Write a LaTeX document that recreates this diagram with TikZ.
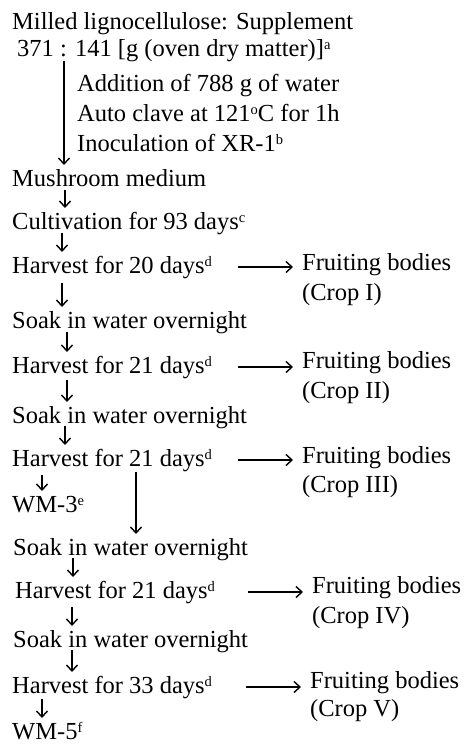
\documentclass[tikz,border=0pt]{standalone}
\usepackage{fontspec}
\setmainfont{Liberation Serif}
\usepackage{tikz}
\usetikzlibrary{arrows.meta, positioning, calc}
\tikzset{
  stage/.style={anchor=base west, inner sep=0pt, font=\fontsize{24.5}{30}\selectfont},
  flow/.style={-{Straight Barb[length=6pt, width=11pt]}, line width=1.4pt},
}
\newcommand{\sups}[1]{\raisebox{7pt}{\fontsize{14.5}{14.5}\selectfont #1}}
% vertical arrow: from node, x offset from its west, drop below its baseline, to node
\newcommand{\godown}[4]{%
  \draw[flow] let \p1=(#1.base west), \p2=(#4.base) in
    ({\x1+#2pt},{\y1-#3pt}) -- ({\x1+#2pt},{\y2+21pt});}
% horizontal arrow: harvest node to crop node
\newcommand{\goright}[2]{%
  \draw[flow] let \p1=(#1.base), \p2=(#2.base west) in
    ({\x2-64pt},{\y1+6pt}) -- ({\x2-9pt},{\y1+6pt});}

\begin{document}
\begin{tikzpicture}[x=1pt, y=-1pt]
  \useasboundingbox (0,0) rectangle (467,745);

  % Preparation of the medium
  \node[stage] (milled) at (12,29) {Milled lignocellulose: Supplement};
  \node[stage] (ratio) at (17,56) {371 : 141 [g (oven dry matter)]\sups{a}};
  \node[stage] (add) at (77,91) {Addition of 788 g of water};
  \node[stage] (auto) at (77,121) {Auto clave at 121\sups{o}C for 1h};
  \node[stage] (inoc) at (77,151) {Inoculation of XR-1\sups{b}};
  \node[stage] (mush) at (12,186) {Mushroom medium};
  \node[stage] (cult) at (12,229) {Cultivation for 93 days\sups{c}};

  % Harvests
  \node[stage] (harvI) at (12,273) {Harvest for 20 days\sups{d}};
  \node[stage] (fruitI) at (302,270) {Fruiting bodies};
  \node[stage] (cropI) at (302,300) {(Crop I)};
  \node[stage] (soakI) at (12,328) {Soak in water overnight};
  \node[stage] (harvII) at (12,373) {Harvest for 21 days\sups{d}};
  \node[stage] (fruitII) at (302,368) {Fruiting bodies};
  \node[stage] (cropII) at (302,398) {(Crop II)};
  \node[stage] (soakII) at (12,423) {Soak in water overnight};
  \node[stage] (harvIII) at (12,466) {Harvest for 21 days\sups{d}};
  \node[stage] (fruitIII) at (302,463) {Fruiting bodies};
  \node[stage] (cropIII) at (302,492) {(Crop III)};
  \node[stage] (wmIII) at (12,512) {WM-3\sups{e}};
  \node[stage] (soakIII) at (13,555) {Soak in water overnight};
  \node[stage] (harvIV) at (15,598) {Harvest for 21 days\sups{d}};
  \node[stage] (fruitIV) at (312,593) {Fruiting bodies};
  \node[stage] (cropIV) at (312,623) {(Crop IV)};
  \node[stage] (soakIV) at (13,647) {Soak in water overnight};
  \node[stage] (harvV) at (12,693) {Harvest for 33 days\sups{d}};
  \node[stage] (fruitV) at (310,688) {Fruiting bodies};
  \node[stage] (cropV) at (310,716) {(Crop V)};
  \node[stage] (wmV) at (12,739) {WM-5\sups{f}};

  % Flow down
  \godown{ratio}{47}{5}{mush}
  \godown{mush}{53}{4}{cult}
  \godown{cult}{50}{4}{harvI}
  \godown{harvI}{50}{10}{soakI}
  \godown{soakI}{55}{4}{harvII}
  \godown{harvII}{55}{7}{soakII}
  \godown{soakII}{53}{3}{harvIII}
  \godown{harvIII}{30}{9}{wmIII}
  \godown{harvIII}{124}{6}{soakIII}
  \godown{soakIII}{60}{3}{harvIV}
  \godown{harvIV}{57}{9}{soakIV}
  \godown{soakIV}{59}{3}{harvV}
  \godown{harvV}{30}{6}{wmV}

  % Crops
  \goright{harvI}{fruitI}
  \goright{harvII}{fruitII}
  \goright{harvIII}{fruitIII}
  \goright{harvIV}{fruitIV}
  \goright{harvV}{fruitV}
\end{tikzpicture}
\end{document}
